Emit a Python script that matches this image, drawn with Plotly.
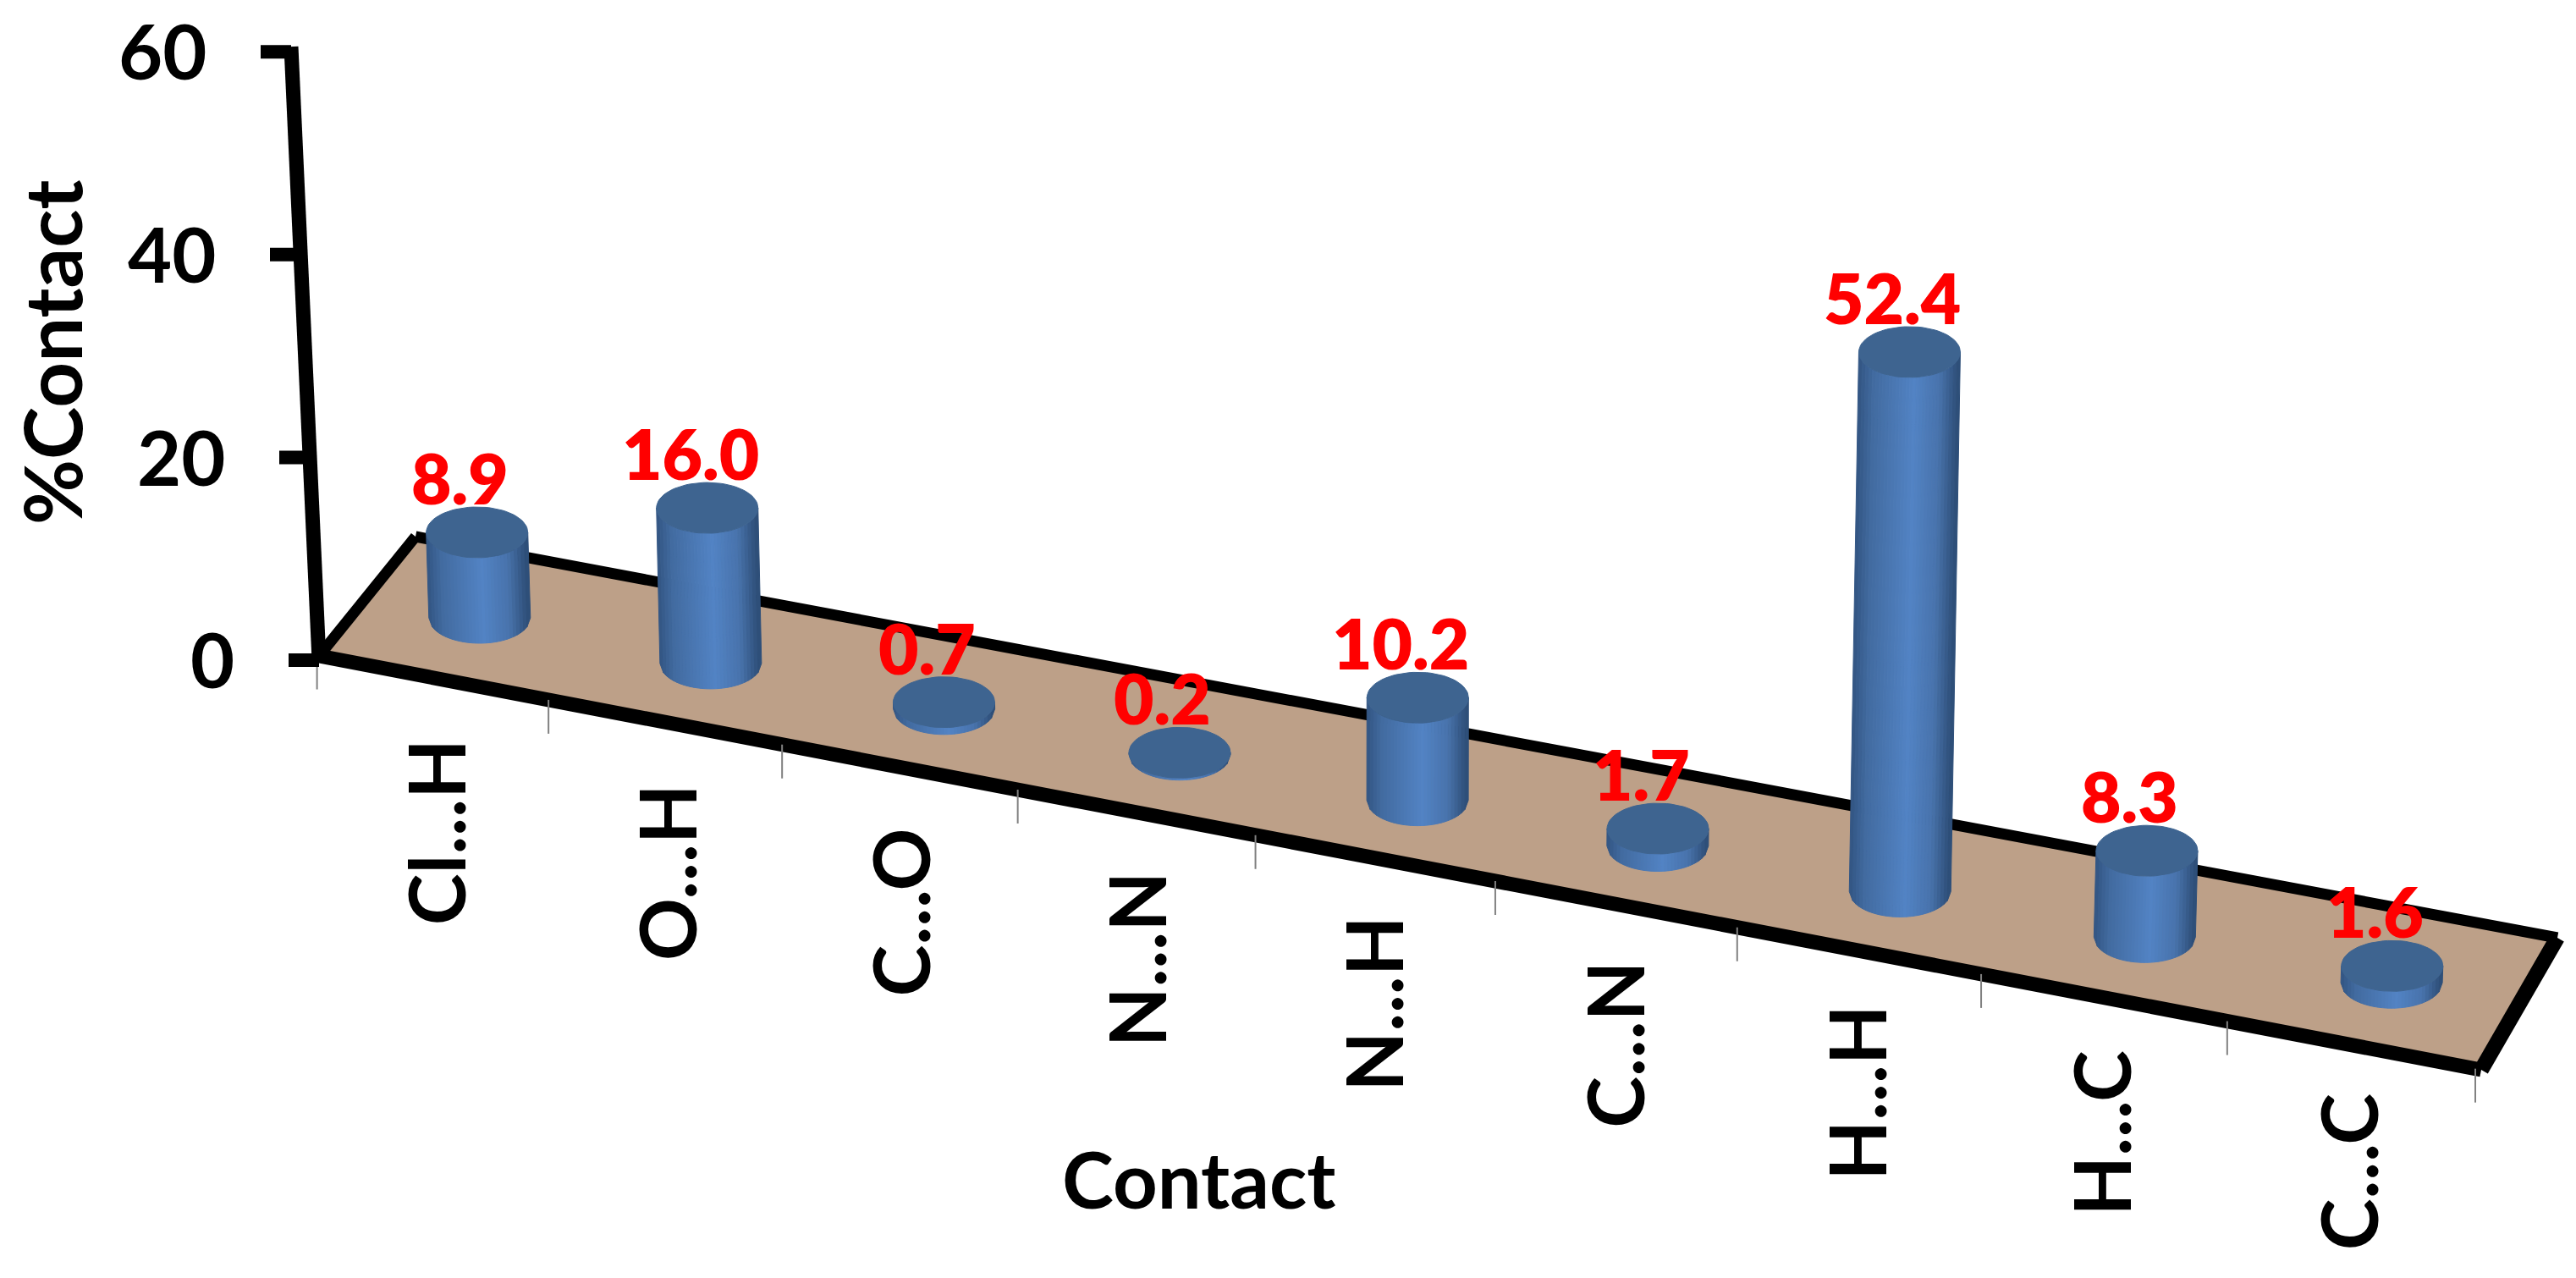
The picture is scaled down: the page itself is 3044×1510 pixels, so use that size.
import plotly.graph_objects as go
from math import cos, sin, pi

categories = ["Cl...H", "O...H", "C...O", "N...N", "N...H", "C...N", "H...H", "H...C", "C...C"]
contact_pct = [8.9, 16.0, 0.7, 0.2, 10.2, 1.7, 52.4, 8.3, 1.6]
y_ticks = [0, 20, 40, 60]
value_labels = ["8.9", "16.0", "0.7", "0.2", "10.2", "1.7", "52.4", "8.3", "1.6"]

W, H = 3044, 1510
Y0_PX = 780.0
PX_PER_UNIT = 11.98
FONT = "Lato"


def px_to_v(py):
    return (Y0_PX - py) / PX_PER_UNIT


def cat_x(i):
    return 1.941 * (292 + 140 * i + 0.6875 * i * i)


def base_v(i):
    return px_to_v(730 + 53.9 * i)


def depth_scale(i):
    # nearer cylinders are drawn slightly taller
    return (11.35 + 0.136 * i) / PX_PER_UNIT


def front_x(j):
    return 1.941 * (193 + 140.3 * j + 0.633 * j * j)


def front_y(x):
    return 775 + (x - 377) * (1264 - 775) / (2932 - 377)


def axis_x(v):
    return 377 - 33 / 60 * v


RX, RY = 60.0, 30.0
RY_V = RY / PX_PER_UNIT
N_STRIPS = 30
STOPS = [(-1, (50, 84, 130)), (-0.7, (66, 107, 160)), (-0.2, (76, 122, 182)), (0.1, (82, 131, 196)),
         (0.6, (72, 115, 172)), (0.9, (50, 84, 128)), (1, (44, 76, 118))]
TOP_COLOR = "#3E6490"
FLOOR_COLOR = "#BDA088"


def grad(s):
    for (a, ca), (b, cb) in zip(STOPS, STOPS[1:]):
        if a <= s <= b:
            t = (s - a) / (b - a)
            c = [round(p + (q - p) * t) for p, q in zip(ca, cb)]
            return f"rgb({c[0]},{c[1]},{c[2]})"
    return "rgb(44,76,118)"


fig = go.Figure()

# Floor
fl = [(377, 775), (491, 634), (3022, 1108), (2932, 1264)]
fig.add_trace(go.Scatter(x=[p[0] for p in fl] + [fl[0][0]], y=[px_to_v(p[1]) for p in fl] + [px_to_v(fl[0][1])],
                         mode="lines", fill="toself", fillcolor=FLOOR_COLOR, line=dict(width=0), hoverinfo="skip"))
for (a, b, w) in [(0, 1, 13), (1, 2, 13), (2, 3, 18), (3, 0, 17)]:
    fig.add_trace(go.Scatter(x=[fl[a][0], fl[b][0]], y=[px_to_v(fl[a][1]), px_to_v(fl[b][1])], mode="lines",
                             line=dict(color="black", width=w), hoverinfo="skip"))

# Category ticks under the front edge
for j in range(len(categories) + 1):
    x = front_x(j)
    yf = front_y(x)
    fig.add_trace(go.Scatter(x=[x, x], y=[px_to_v(yf), px_to_v(yf + 40)], mode="lines",
                             line=dict(color="#808080", width=2), hoverinfo="skip"))

# Value axis, drawn slanted
fig.add_trace(go.Scatter(x=[axis_x(y_ticks[0]), axis_x(y_ticks[-1])], y=[y_ticks[0], y_ticks[-1] + 0.5], mode="lines",
                         line=dict(color="black", width=17), hoverinfo="skip"))
for v in y_ticks:
    fig.add_trace(go.Scatter(x=[axis_x(v) - 36, axis_x(v)], y=[v, v], mode="lines",
                             line=dict(color="black", width=16), hoverinfo="skip"))

# Cylinder sides, one trace per shade
for k in range(N_STRIPS):
    s0 = -1 + 2 * k / N_STRIPS
    s1 = -1 + 2 * (k + 1) / N_STRIPS
    xs, ys = [], []
    for i, val in enumerate(contact_pct):
        cx = cat_x(i)
        h = val * depth_scale(i)
        b = base_v(i)
        dx = 0.008 * (i - 3.8) * h * PX_PER_UNIT
        e0 = RY_V * (1 - s0 * s0) ** 0.5
        e1 = RY_V * (1 - s1 * s1) ** 0.5
        xs += [cx + RX * s0, cx + RX * s1, cx + RX * s1 + dx, cx + RX * s0 + dx, cx + RX * s0, None]
        ys += [b - e0, b - e1, b + h - e1, b + h - e0, b - e0, None]
    c = grad((s0 + s1) / 2)
    fig.add_trace(go.Scatter(x=xs, y=ys, mode="lines", fill="toself", fillcolor=c,
                             line=dict(color=c, width=1), hoverinfo="skip"))

# Cylinder tops
N_E = 72
xs, ys = [], []
for i, val in enumerate(contact_pct):
    h = val * depth_scale(i)
    dx = 0.008 * (i - 3.8) * h * PX_PER_UNIT
    for a in range(N_E + 1):
        t = 2 * pi * a / N_E
        xs.append(cat_x(i) + dx + RX * cos(t))
        ys.append(base_v(i) + h + RY_V * sin(t))
    xs.append(None)
    ys.append(None)
fig.add_trace(go.Scatter(x=xs, y=ys, mode="lines", fill="toself", fillcolor=TOP_COLOR,
                         line=dict(color=TOP_COLOR, width=1), hoverinfo="skip"))

ann = []
# Value-axis numbers
for v in y_ticks:
    ann.append(dict(x=axis_x(v) - 98, y=v + 0.15, text=str(v), xanchor="right", yanchor="middle", showarrow=False,
                    font=dict(family=FONT, size=90, color="black", weight=700)))
# Data labels
for i, (val, lab) in enumerate(zip(contact_pct, value_labels)):
    h = val * depth_scale(i)
    dx = 0.008 * (i - 3.8) * h * PX_PER_UNIT
    ann.append(dict(x=cat_x(i) + dx - 20, y=base_v(i) + h + RY_V, text=lab, xanchor="center", yanchor="bottom",
                    yshift=-16, showarrow=False, font=dict(family=FONT, size=82, color="#FF0000", weight=800)))
# Category labels
for i, cat in enumerate(categories):
    ann.append(dict(x=cat_x(i) - 52, y=px_to_v(1.941 * (449 + 27 * i)), text=cat, textangle=-90, xanchor="center",
                    yanchor="top", showarrow=False, font=dict(family=FONT, size=92, color="black", weight=700)))
# Axis titles
ann.append(dict(x=1416, y=px_to_v(1392), text="Contact", xanchor="center", yanchor="middle", showarrow=False,
                font=dict(family=FONT, size=92, color="black", weight=700)))
ann.append(dict(x=60, y=px_to_v(416), text="%Contact", textangle=-90, xanchor="center", yanchor="middle",
                showarrow=False, font=dict(family=FONT, size=94, color="black", weight=700)))

fig.update_layout(
    width=W, height=H, margin=dict(l=0, r=0, t=0, b=0), showlegend=False,
    paper_bgcolor="white", plot_bgcolor="white", annotations=ann,
    xaxis=dict(visible=False, range=[0, W], fixedrange=True),
    yaxis=dict(visible=False, range=[px_to_v(H), px_to_v(0)], fixedrange=True),
)
fig.write_html("out.html", config=dict(displayModeBar=False), default_width=W, default_height=H,
               post_script="document.body.style.margin='0';document.documentElement.style.overflow='hidden';")
